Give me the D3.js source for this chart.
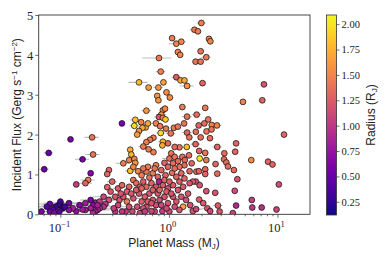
<!DOCTYPE html>
<html><head><meta charset="utf-8">
<script src="https://cdn.jsdelivr.net/npm/d3@7"></script>
<style>body{margin:0;background:#fff}svg{display:block}</style>
</head><body><svg id="c" width="390" height="260"></svg>
<script>
// [mass (M_J), incident flux (Gerg s^-1 cm^-2), radius (R_J), fractional mass error]
const planetsHigh = [
[1.99,4.80,1.45,0.1],[1.72,4.63,1.45,0.1],[1.85,4.59,1.45,0.05],[1.07,4.42,1.45,0],[1.17,4.28,1.5,0.15],
[1.30,4.33,1.5,0.1],[2.34,4.40,1.45,0],[2.41,4.34,1.5,0.05],[1.21,4.07,1.5,0.05],[1.27,4.00,1.5,0],
[1.96,4.09,1.4,0],[1.76,3.83,1.4,0.05],[1.96,3.83,1.4,0.05],[2.21,3.94,1.45,0.1],[0.81,3.92,1.45,0.3],
[0.84,3.58,1.5,0.1],[1.17,3.44,1.25,0.1],[1.28,3.36,1.7,0.1],[1.39,3.36,1.7,0],[1.47,3.22,1.6,0.15],
[2.04,3.29,1.3,0],[0.53,3.31,1.8,0.2],[0.65,3.18,1.65,0],[0.80,3.18,1.6,0.1],[0.89,3.31,1.65,0.05],
[0.78,2.97,1.6,0],[0.80,2.86,1.6,0],[0.95,3.06,1.55,0],[1.02,2.93,1.55,0],[1.33,2.69,1.45,0],
[0.62,2.60,1.6,0.1],[0.88,2.61,1.55,0],[0.85,2.50,1.6,0.1],[0.92,2.65,1.5,0],[0.81,2.44,1.2,0.1],
[0.88,2.42,1.5,0],[0.93,2.38,1.85,0],[2.16,2.67,1.45,0],[1.80,2.50,1.35,0.1],[2.30,2.38,1.4,0],
[2.12,2.28,1.35,0],[1.47,2.45,1.4,0.1],[2.48,2.24,1.5,0],[2.77,2.23,1.5,0.1],[1.88,2.23,1.3,0],
[4.81,2.82,1.5,0],[7.25,2.86,1.3,0],[7.51,3.26,1.2,0.05],[11.5,2.00,1.3,0]
];
const planetsMid = [
[0.369,2.28,0.6,0],[0.49,2.37,1.85,0.1],[0.48,2.22,1.95,0.1],[0.555,2.31,1.5,0],[0.61,2.18,1.65,0],
[0.64,2.28,1.7,0],[0.57,2.17,1.7,0],[0.53,2.09,1.6,0],[0.51,2.00,1.65,0],[0.76,2.28,1.5,0.1],
[0.83,2.21,1.45,0],[0.84,2.04,1.95,0.1],[0.94,2.15,1.4,0],[1.04,2.03,1.4,0.1],[1.11,2.17,1.4,0],
[1.21,2.20,1.4,0],[1.38,2.28,1.4,0],[1.47,2.05,1.3,0.1],[1.54,1.93,1.4,0],[1.77,2.07,1.35,0],
[1.96,1.93,1.35,0],[2.22,2.08,1.4,0],[2.47,2.13,1.4,0],[2.39,1.91,1.35,0],[2.79,1.69,1.3,0.1],
[2.16,1.54,1.4,0],[1.90,1.59,1.3,0],[1.76,1.76,1.3,0.1],[1.92,1.40,2.0,0],[2.21,1.36,1.4,0],
[1.46,1.69,1.8,0],[1.25,1.68,1.4,0.1],[1.13,1.69,1.35,0],[0.98,1.78,1.35,0],[0.88,1.82,1.75,0.1],
[0.87,1.73,1.7,0],[0.72,1.92,1.45,0],[0.67,1.87,1.45,0],[0.62,1.81,1.45,0],[0.58,1.70,1.45,0.1],
[0.65,1.63,1.45,0],[0.72,1.56,1.45,0],[0.44,1.62,1.7,0],[0.45,1.50,1.75,0],[0.38,1.28,1.45,0.15],
[0.43,1.36,1.5,0],[0.48,1.39,1.5,0],[0.49,1.29,1.6,0],[0.44,1.09,1.8,0.1],[0.47,1.19,1.5,0],
[0.52,1.08,1.5,0],[0.76,1.23,1.5,0.1],[0.91,1.29,1.3,0],[1.01,1.40,1.35,0.15],[1.05,1.53,1.4,0],
[1.13,1.44,1.4,0],[1.21,1.33,1.35,0],[1.33,1.44,1.35,0.1],[1.40,1.36,1.3,0],[1.53,1.48,1.35,0],
[1.39,1.23,1.35,0],[1.25,1.19,1.4,0],[1.09,1.28,1.35,0.1],[0.98,1.19,1.3,0],[0.85,1.11,1.3,0.15],
[0.71,1.03,1.45,0],[0.62,1.07,1.4,0.1],[0.56,0.98,1.45,0],[0.66,0.92,1.35,0],[0.79,0.94,1.3,0],
[0.93,0.98,1.3,0.1],[1.07,1.04,1.35,0],[1.17,0.94,1.3,0],[1.30,1.03,1.3,0.1],[1.55,1.08,1.3,0],
[1.79,1.07,1.35,0],[1.89,1.08,1.3,0],[2.16,1.13,1.3,0],[2.16,1.01,1.3,0],[2.79,1.02,1.35,0],
[2.69,1.26,1.3,0],[3.24,1.53,1.35,0],[3.22,1.38,1.35,0],[3.38,1.30,1.35,0],[3.50,1.20,1.35,0],
[3.97,1.11,1.35,0.05],[4.16,1.78,1.3,0.05],[4.08,1.57,1.3,0],[4.27,0.88,1.2,0],[5.74,1.36,1.55,0],
[8.2,1.32,1.3,0],[9.0,1.25,1.3,0],[10.3,0.75,1.15,0],
[0.74,1.15,1.4,0],[0.64,1.19,1.45,0.1],[0.58,1.15,1.4,0],[1.13,1.15,1.35,0],[1.62,1.28,1.3,0]
];
const planetsLow = [
[1.77,0.82,1.2,0.1],[1.92,0.73,1.2,0],[2.21,0.58,1.2,0],[2.67,0.54,1.2,0],[1.90,0.37,1.25,0],
[2.07,0.28,1.25,0],[2.26,0.15,1.2,0.1],[2.40,0.08,1.1,0],[2.83,0.22,1.25,0.1],[2.93,0.07,1.2,0],
[4.04,0.59,1.15,0],[4.16,0.22,0.9,0],[3.88,0.03,1.1,0],[5.80,0.36,1.05,0],[5.86,0.17,1.0,0],
[7.16,0.17,0.95,0],[9.8,0.12,1.1,0],[1.57,0.23,1.2,0.1],[1.66,0.08,1.2,0],[1.78,0.13,1.1,0.15],
[1.35,0.19,1.7,0],[1.25,0.11,1.2,0],[1.44,0.36,1.15,0],[1.30,0.44,1.2,0.1],[1.17,0.32,1.2,0],
[1.09,0.44,1.2,0.2],[0.98,0.28,1.2,0],[0.91,0.44,1.2,0.1],[0.82,0.36,1.15,0.2],[0.76,0.23,1.15,0],
[0.87,0.08,1.05,0],[0.74,0.07,1.1,0],[0.69,0.08,1.1,0],[1.01,0.07,1.1,0],[0.62,0.19,1.2,0.2],
[0.56,0.32,1.25,0],[0.51,0.19,1.15,0.2],[0.46,0.07,1.1,0],[0.40,0.07,1.05,0],[0.37,0.07,1.0,0],
[0.32,0.07,1.0,0],[0.41,0.32,1.45,0],[0.35,0.36,1.2,0.2],[0.32,0.44,1.2,0],[0.28,0.36,1.15,0.2],
[0.26,0.26,1.0,0],[0.25,0.19,0.95,0.3],[0.23,0.15,0.95,0],[0.22,0.11,0.9,0.3],[0.21,0.29,0.8,0],
[0.20,0.23,0.7,0.3],[0.19,0.36,0.6,0.2],[0.19,0.15,0.85,0],[0.17,0.11,0.85,0.3],[0.16,0.12,0.8,0],
[0.14,0.08,0.7,0.3],[0.13,0.15,0.85,0],[0.12,0.28,0.55,0.3],[0.12,0.11,0.7,0],[0.10,0.28,0.3,0.3],
[0.10,0.32,0.35,0],[0.096,0.23,0.3,0.3],[0.105,0.15,0.2,0],[0.09,0.19,0.3,0.3],[0.085,0.12,0.5,0],
[0.08,0.26,0.55,0.3],[0.08,0.07,0.55,0.3],[0.067,0.07,0.6,0],[0.088,0.04,0.6,0],[0.078,1.54,0.5,0.1],
[0.071,1.13,0.55,0.1],[0.124,1.88,0.6,0],[0.196,1.93,1.4,0.15],[0.20,1.50,1.4,0.15],[0.16,1.38,0.6,0.15],
[0.19,1.03,0.65,0],[0.18,0.86,1.45,0.15],[0.17,0.78,1.3,0.15],[0.14,0.75,1.05,0],[0.28,1.11,1.3,0],
[0.27,1.01,1.3,0],[0.30,0.82,1.3,0.1],[0.27,0.68,1.3,0],[0.29,0.57,1.2,0],[0.34,0.65,1.25,0.1],
[0.37,0.73,1.3,0],[0.43,0.69,1.3,0.1],[0.47,0.86,1.4,0],[0.50,0.78,1.35,0],[0.54,0.69,1.3,0.1],
[0.58,0.82,1.25,0],[0.62,0.69,1.3,0],[0.69,0.78,1.3,0],[0.76,0.69,1.2,0.1],[0.81,0.82,0.85,0],
[0.88,0.73,1.25,0.2],[0.98,0.65,1.2,0],[1.09,0.73,1.25,0.1],[1.21,0.61,1.2,0],[1.35,0.69,1.25,0.1],
[1.50,0.52,1.2,0],[0.66,0.52,1.2,0.1],[0.60,0.44,1.25,0],[0.53,0.52,1.2,0],[0.47,0.40,1.2,0.2],
[0.71,0.36,1.2,0],[0.38,0.44,1.2,0],[0.25,0.44,1.1,0.2],[0.23,0.32,1.05,0],
[0.58,0.15,1.2,0.2],[0.64,0.32,1.25,0],[0.79,0.52,1.2,0.1],[0.95,0.57,1.25,0],[1.05,0.52,1.2,0.2],
[1.13,0.19,1.15,0],[0.95,0.15,1.15,0.1],[0.85,0.23,1.1,0],[0.69,0.28,1.2,0],[0.54,0.03,1.1,0],
[0.60,0.07,1.05,0],[0.43,0.19,1.15,0.2],[0.34,0.23,1.1,0],[0.31,0.15,1.05,0.2],[0.36,0.52,1.2,0],
[0.41,0.57,1.25,0],[0.45,0.52,1.2,0.1],[0.50,0.61,1.25,0],[0.56,0.65,1.3,0],[0.71,0.61,1.25,0.1],
[0.82,0.61,1.3,0],[0.91,0.86,1.3,0.1],[1.01,0.82,1.25,0],[1.25,0.82,1.25,0],[1.39,0.90,1.3,0],
[1.66,0.82,1.25,0],[1.55,0.78,1.2,0],[0.22,0.23,0.85,0.3],[0.21,0.07,0.8,0],[0.15,0.23,0.65,0.3],
[0.11,0.19,0.35,0.3],[0.075,0.19,0.4,0.3],[0.098,0.07,0.45,0],[0.17,0.28,0.8,0.3],[0.20,0.03,0.9,0]
];
const xTicks = [0.1, 1, 10];
const xTickExp = ["\u22121", "0", "1"];
const yTicks = [0, 1, 2, 3, 4, 5];
const cTicks = [0.25, 0.50, 0.75, 1.00, 1.25, 1.50, 1.75, 2.00];

const planets = planetsHigh.concat(planetsMid, planetsLow);
const svg = d3.select("#c");
const L = 38.7, R = 310, T = 15, B = 214.3;
const x = d3.scaleLog().domain([0.0631, 19.95]).range([L, R]);
const y = d3.scaleLinear().domain([0, 5]).range([B, T]);
const cDom = [0.12, 2.09];
const color = d3.scaleSequential(d3.interpolatePlasma).domain(cDom);
const serif = "'Liberation Serif', 'DejaVu Serif', serif";
const sans = "'Liberation Sans', Arial, sans-serif";

svg.append("clipPath").attr("id", "pc").append("rect")
  .attr("x", L).attr("y", T).attr("width", R - L).attr("height", B - T);
const g = svg.append("g").attr("clip-path", "url(#pc)");
// error bars
g.selectAll("line.err").data(planets.filter(d => d[3] > 0)).join("line")
  .attr("x1", d => x(d[0] * (1 - d[3]))).attr("x2", d => x(d[0] * (1 + d[3])))
  .attr("y1", d => y(d[1])).attr("y2", d => y(d[1]))
  .attr("stroke", "#bdbdbd").attr("stroke-width", 1.1);
g.selectAll("circle").data(planets).join("circle")
  .attr("cx", d => x(d[0])).attr("cy", d => y(d[1])).attr("r", 2.9)
  .attr("fill", d => color(d[2])).attr("stroke", "#111").attr("stroke-width", 0.75);

// frame
svg.append("rect").attr("x", L).attr("y", T).attr("width", R - L).attr("height", B - T)
  .attr("fill", "none").attr("stroke", "#333").attr("stroke-width", 0.9);

// x axis
const xa = svg.append("g").attr("transform", `translate(0,${B})`)
  .call(d3.axisBottom(x).tickValues(xTicks).tickSize(3.5).tickFormat(""));
const minors = [];
for (let e = -2; e <= 1; e++) for (let m = 2; m <= 9; m++) { const v = m * Math.pow(10, e); if (v > 0.0631 && v < 19.95) minors.push(v); }
const xm = svg.append("g").attr("transform", `translate(0,${B})`)
  .call(d3.axisBottom(x).tickValues(minors).tickSize(2).tickFormat(""));
[xa, xm].forEach(a => { a.select(".domain").remove(); a.selectAll("line").attr("stroke", "#333").attr("stroke-width", 0.7); });
xTicks.forEach((v, i) => {
  const t = svg.append("text").attr("x", x(v) - 1).attr("y", 232).attr("text-anchor", "middle")
    .attr("font-family", serif).attr("font-size", 12.5).attr("fill", "#222");
  t.append("tspan").text("10");
  t.append("tspan").attr("dy", -5).attr("font-size", 8.5).text(xTickExp[i]);
});
// y axis
const ya = svg.append("g").attr("transform", `translate(${L},0)`)
  .call(d3.axisLeft(y).tickValues(yTicks).tickSize(3.5).tickFormat(d3.format("d")));
ya.select(".domain").remove();
ya.selectAll("line").attr("stroke", "#333").attr("stroke-width", 0.7);
ya.selectAll("text").attr("font-family", serif).attr("font-size", 12.5).attr("fill", "#222").attr("x", -5.5).attr("dy", "0.36em");

// axis labels
const xl = svg.append("text").attr("x", 174).attr("y", 247).attr("text-anchor", "middle")
  .attr("font-family", sans).attr("font-size", 12).attr("fill", "#222");
xl.append("tspan").text("Planet Mass (M");
xl.append("tspan").attr("font-size", 8).attr("dy", 2).text("J");
xl.append("tspan").attr("dy", -2).text(")");
const yl = svg.append("text").attr("transform", `translate(21,${(T + B) / 2}) rotate(-90)`)
  .attr("text-anchor", "middle").attr("font-family", sans).attr("font-size", 12).attr("fill", "#222");
yl.append("tspan").text("Incident Flux (Gerg s");
yl.append("tspan").attr("font-size", 8).attr("dy", -4.5).text("\u22121");
yl.append("tspan").attr("dy", 4.5).text(" cm");
yl.append("tspan").attr("font-size", 8).attr("dy", -4.5).text("\u22122");
yl.append("tspan").attr("dy", 4.5).text(")");

// colorbar
const cbX = 326.5, cbW = 10, cbT = 15, cbB = 215;
const cy = d3.scaleLinear().domain(cDom).range([cbB, cbT]);
const defs = svg.append("defs");
const grad = defs.append("linearGradient").attr("id", "cg").attr("x1", 0).attr("y1", 1).attr("x2", 0).attr("y2", 0);
d3.range(0, 1.0001, 0.05).forEach(t => grad.append("stop").attr("offset", t).attr("stop-color", d3.interpolatePlasma(t)));
svg.append("rect").attr("x", cbX).attr("y", cbT).attr("width", cbW).attr("height", cbB - cbT)
  .attr("fill", "url(#cg)").attr("stroke", "#333").attr("stroke-width", 0.8);
const ca = svg.append("g").attr("transform", `translate(${cbX + cbW},0)`)
  .call(d3.axisRight(cy).tickValues(cTicks).tickSize(3).tickFormat(d3.format(".2f")));
ca.select(".domain").remove();
ca.selectAll("line").attr("stroke", "#333").attr("stroke-width", 0.7);
ca.selectAll("text").attr("font-family", serif).attr("font-size", 10.5).attr("fill", "#222").attr("x", 5);
const cl = svg.append("text").attr("transform", `translate(375,${(cbT + cbB) / 2}) rotate(-90)`)
  .attr("text-anchor", "middle").attr("font-family", sans).attr("font-size", 12).attr("fill", "#222");
cl.append("tspan").text("Radius (R");
cl.append("tspan").attr("font-size", 8).attr("dy", 2).text("J");
cl.append("tspan").attr("dy", -2).text(")");
</script></body></html>
